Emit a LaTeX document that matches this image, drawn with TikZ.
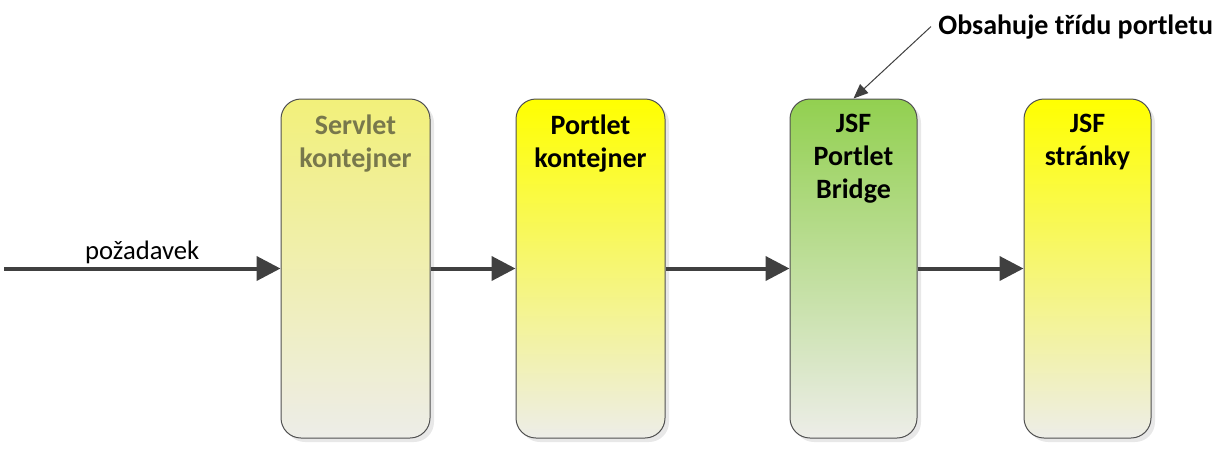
\documentclass[tikz,border=0pt]{standalone}
\usepackage{fontspec}
\setmainfont{Carlito}
\usetikzlibrary{arrows.meta,shadows}

\definecolor{arrowgrey}{HTML}{404040}
\definecolor{boxline}{HTML}{505050}
\definecolor{boxyellow}{HTML}{FFFF00}
\definecolor{boxpale}{HTML}{F2F07A}
\definecolor{boxgreen}{HTML}{92D050}
\definecolor{boxbottom}{HTML}{EDEDE8}
\definecolor{paletext}{HTML}{78784C}

\begin{document}
\begin{tikzpicture}[x=0.75pt,y=-0.75pt,line width=3pt,draw=arrowgrey]
    \tikzstyle{box}=[rectangle,rounded corners=15pt,draw=boxline,line width=0.75pt,
        minimum height=254.25pt,inner sep=0pt,
        drop shadow={shadow xshift=3pt,shadow yshift=-3pt,fill=black!18}]
    \tikzstyle{wide box}=[box,minimum width=111.75pt]
    \tikzstyle{narrow box}=[box,minimum width=95.25pt]
    \tikzstyle{boxtext}=[align=center,anchor=north,yshift=-10.5pt,inner sep=0pt,
        font=\fontsize{21}{24.75}\selectfont\bfseries]
    \tikzstyle{flow}=[-{Triangle[length=18pt,width=18pt]},draw=arrowgrey,line width=3pt]
    \tikzstyle{hint}=[-{Triangle[length=11pt,width=9pt]},draw=arrowgrey,line width=0.75pt]

    \useasboundingbox (0,0) rectangle (1228,462);

    % Draw the boxes
    \node[wide box, top color=boxpale, middle color=boxpale!70!boxbottom, bottom color=boxbottom,
        label={[boxtext,text=paletext]north:Servlet\\kontejner}] (servlet) at (355.5,268.5) {};
    \node[wide box, top color=boxyellow, middle color=boxyellow!75!boxbottom, bottom color=boxbottom,
        label={[boxtext]north:Portlet\\kontejner}] (portlet) at (590.5,268.5) {};
    \node[narrow box, top color=boxgreen, middle color=boxgreen!55!boxbottom, bottom color=boxbottom,
        label={[boxtext]north:JSF\\Portlet\\Bridge}] (bridge) at (853.5,268.5) {};
    \node[narrow box, top color=boxyellow, middle color=boxyellow!75!boxbottom, bottom color=boxbottom,
        label={[boxtext]north:JSF\\stránky}] (pages) at (1087.5,268.5) {};

    % Request flow
    \coordinate (start) at (4,268.5);
    \draw[flow] (start) -- node[midway,above,inner sep=2pt,font=\fontsize{20}{24}\selectfont] {požadavek} (servlet.west);
    \draw[flow] (servlet.east) -- (portlet.west);
    \draw[flow] (portlet.east) -- (bridge.west);
    \draw[flow] (bridge.east) -- (pages.west);

    % Annotation
    \node[anchor=base west,inner sep=4pt,font=\fontsize{21}{24}\selectfont\bfseries] (note) at (931,34) {Obsahuje třídu portletu};
    \draw[hint] (note.west) -- (bridge.north);
\end{tikzpicture}
\end{document}
